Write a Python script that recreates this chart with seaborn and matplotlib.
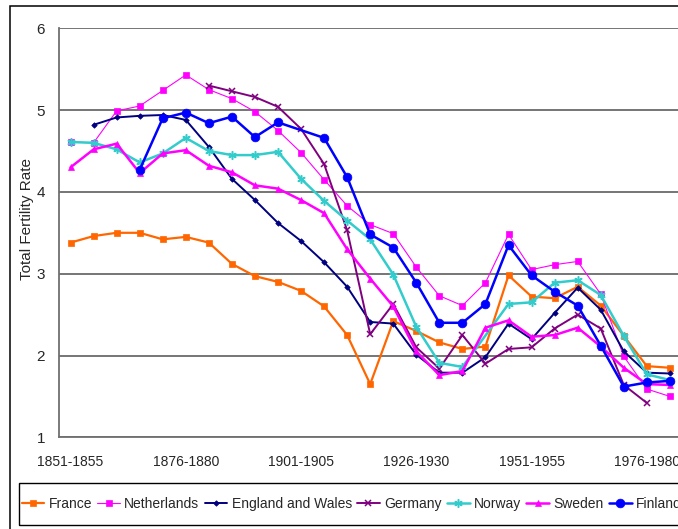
import numpy as np
import pandas as pd
import matplotlib
matplotlib.use("Agg")
import matplotlib.pyplot as plt
from matplotlib.patches import Rectangle
import seaborn as sns

nan = np.nan

periods = ['1851-1855', '1856-1860', '1861-1865', '1866-1870', '1871-1875',
           '1876-1880', '1881-1885', '1886-1890', '1891-1895', '1896-1900',
           '1901-1905', '1906-1910', '1911-1915', '1916-1920', '1921-1925',
           '1926-1930', '1931-1935', '1936-1940', '1941-1945', '1946-1950',
           '1951-1955', '1956-1960', '1961-1965', '1966-1970', '1971-1975',
           '1976-1980', '1981-1985']

france = [3.38, 3.46, 3.50, 3.50, 3.42, 3.45, 3.38, 3.12, 2.97, 2.90, 2.79, 2.60, 2.25, 1.65,
          2.42, 2.30, 2.16, 2.08, 2.11, 2.98, 2.72, 2.70, 2.84, 2.61, 2.24, 1.87, 1.85]
netherlands = [4.61, 4.60, 4.99, 5.05, 5.24, 5.43, 5.25, 5.14, 4.98, 4.75, 4.48, 4.15, 3.83, 3.60,
               3.49, 3.08, 2.73, 2.61, 2.89, 3.48, 3.05, 3.11, 3.15, 2.75, 1.99, 1.59, 1.50]
england = [nan, 4.82, 4.91, 4.93, 4.94, 4.88, 4.55, 4.16, 3.90, 3.62, 3.40, 3.14, 2.84, 2.41,
           2.39, 2.01, 1.79, 1.79, 1.98, 2.39, 2.20, 2.52, 2.83, 2.56, 2.05, 1.79, 1.78]
germany = [nan, nan, nan, nan, nan, nan, 5.30, 5.23, 5.16, 5.04, 4.77, 4.34, 3.53, 2.26,
           2.63, 2.10, 1.84, 2.25, 1.90, 2.08, 2.10, 2.33, 2.50, 2.33, 1.64, 1.42, nan]
norway = [4.61, 4.60, 4.52, 4.36, 4.47, 4.66, 4.50, 4.45, 4.45, 4.49, 4.16, 3.89, 3.65, 3.42,
          2.99, 2.35, 1.91, 1.86, nan, 2.63, 2.65, 2.89, 2.92, 2.74, 2.24, 1.77, 1.70]
sweden = [4.30, 4.52, 4.59, 4.23, 4.47, 4.51, 4.32, 4.24, 4.08, 4.04, 3.90, 3.74, 3.30, 2.94,
          2.60, 2.05, 1.76, 1.81, 2.34, 2.43, 2.23, 2.25, 2.34, 2.11, 1.85, 1.65, 1.64]
finland = [nan, nan, nan, 4.27, 4.90, 4.97, 4.84, 4.92, 4.67, 4.85, nan, 4.66, 4.18, 3.48,
           3.32, 2.89, 2.40, 2.40, 2.63, 3.35, 2.98, 2.78, 2.61, 2.12, 1.62, 1.67, 1.69]

countries = ['France', 'Netherlands', 'England and Wales', 'Germany', 'Norway', 'Sweden', 'Finland']
series = [france, netherlands, england, germany, norway, sweden, finland]

# name: (colour, marker, markersize, linewidth)
styles = {
    'France': ('#FF6600', 's', 5, 1.6),
    'Netherlands': ('#FF00FF', 's', 5, 0.8),
    'England and Wales': ('#000080', 'D', 2.8, 1.4),
    'Germany': ('#800080', 'x', 4, 1.4),
    'Norway': ('#33CCCC', (6, 2, 0), 6, 1.8),
    'Sweden': ('#FF00FF', '^', 5, 1.8),
    'Finland': ('#0000FF', 'o', 6.3, 1.8),
}

rows = []
for name, vals in zip(countries, series):
    for i, v in enumerate(vals):
        rows.append({'idx': i, 'country': name, 'tfr': v})
df = pd.DataFrame(rows)

sns.set_style('white')
plt.rcParams['font.family'] = ['Liberation Sans', 'DejaVu Sans']

fig = plt.figure(figsize=(6.78, 5.29), dpi=100)
W, H = 678, 529
ax = fig.add_axes([59 / W, 1 - 437.3 / H, (681.4 - 59) / W, (437.3 - 28.3) / H])

for name in countries:
    col, mk, ms, lw = styles[name]
    sub = df[df.country == name].dropna()
    sns.lineplot(data=sub, x='idx', y='tfr', ax=ax, color=col, marker=mk, markersize=ms,
                 linewidth=lw, markeredgecolor=col,
                 markeredgewidth=1.1 if mk in ('x', (6, 2, 0)) else 0.5,
                 label=name, clip_on=False)

ax.set_xlim(-0.5, 26.5)
ax.set_ylim(1, 6)
ax.set_yticks([1, 2, 3, 4, 5, 6])
ax.set_xticks(range(0, 27, 5))
ax.set_xticklabels([periods[i] for i in range(0, 27, 5)], fontsize=10)
ax.set_xticks(np.arange(-0.5, 27, 1), minor=True)
ax.tick_params(axis='x', which='major', length=0, pad=13)
ax.tick_params(axis='x', which='minor', length=5, width=1, color='#555555', direction='out')
ax.tick_params(axis='y', length=5, width=1, color='#555555', direction='out', labelsize=11, pad=5)
ax.set_xlabel('')
ax.set_ylabel('')
ax.yaxis.grid(True, color='#505050', linewidth=1.1)
ax.set_axisbelow(True)
for s in ['top', 'right']:
    ax.spines[s].set_visible(False)
for s in ['left', 'bottom']:
    ax.spines[s].set_color('#707070')
    ax.spines[s].set_linewidth(1.3)

fig.text(27.5 / W, 1 - 219 / H, 'Total Fertility Rate', rotation=90, ha='center', va='center',
         fontsize=11)

# outer chart border and legend box (both run past the right/bottom edge, as in the source)
fig.add_artist(Rectangle((10 / W, -0.1), 1.2, 1.1 - 6 / H, transform=fig.transFigure,
                         fill=False, edgecolor='black', linewidth=1.1))
fig.add_artist(Rectangle((19 / W, 1 - 525 / H), 1.2, (525 - 482.7) / H, transform=fig.transFigure,
                         fill=False, edgecolor='black', linewidth=1.0))

handles, labels = ax.get_legend_handles_labels()
ax.get_legend().remove()
fig.legend(handles, labels, loc='center left', bbox_to_anchor=(21.5 / W, 1 - 504 / H),
           ncol=7, frameon=False, fontsize=10, handlelength=1.65, handletextpad=0.3,
           columnspacing=0.37, borderpad=0, borderaxespad=0)

fig.savefig('out.png', dpi=100)
